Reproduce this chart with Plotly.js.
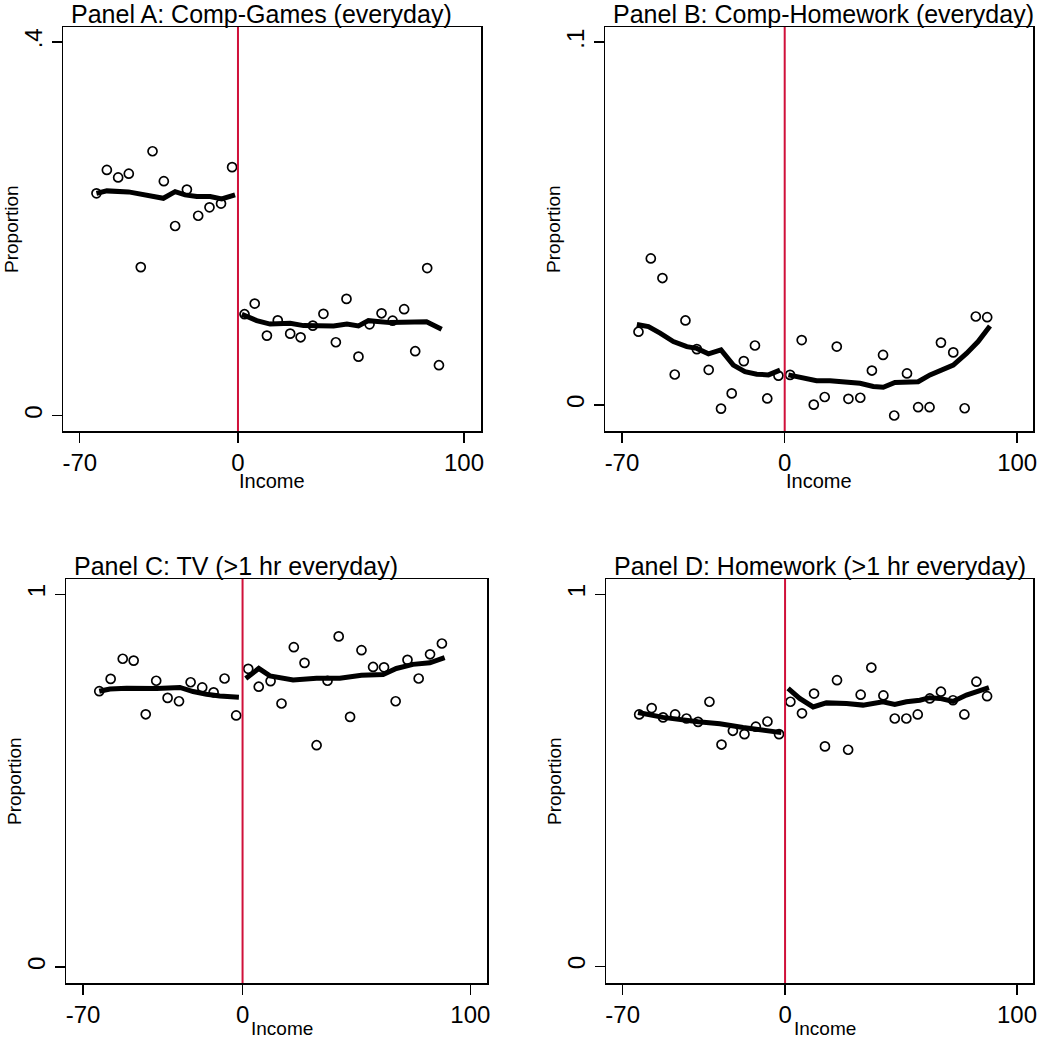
<!DOCTYPE html>
<html>
<head>
<meta charset="utf-8">
<script src="https://cdn.plot.ly/plotly-3.0.1.min.js"></script>
<style>html,body{margin:0;padding:0;background:#fff;}#chart{width:1050px;height:1040px;}</style>
</head>
<body>
<div id="chart"></div>
<script>
// ---------- Data ----------
const panelTitles = ["Panel A: Comp-Games (everyday)", "Panel B: Comp-Homework (everyday)",
                     "Panel C: TV (>1 hr everyday)", "Panel D: Homework (>1 hr everyday)"];
const xTickVals = [-70, 0, 100];
const xTickText = ["-70", "0", "100"];
const yTickValsA = [0, 0.4], yTickTextA = ["0", ".4"];
const yTickValsB = [0, 0.1], yTickTextB = ["0", ".1"];
const yTickValsC = [0, 1],   yTickTextC = ["0", "1"];
const yTickValsD = [0, 1],   yTickTextD = ["0", "1"];
const xLabel = "Income";
const yLabel = "Proportion";

// Panel A
const aLeftX  = [-62.6, -58.0, -53.0, -48.3, -43.0, -37.8, -32.8, -27.8, -22.6, -17.6, -12.6, -7.5, -2.6];
const aLeftY  = [0.238, 0.263, 0.255, 0.259, 0.159, 0.283, 0.251, 0.203, 0.242, 0.214, 0.223, 0.227, 0.266];
const aRightX = [2.9, 7.4, 12.8, 17.6, 23.1, 27.7, 33.1, 37.8, 43.3, 48.0, 53.3, 58.2, 63.5, 68.4, 73.5, 78.4, 83.7, 88.9];
const aRightY = [0.1086, 0.120, 0.0857, 0.102, 0.0878, 0.0839, 0.0964, 0.109, 0.0786, 0.125, 0.0632, 0.0978, 0.1096, 0.1017, 0.114, 0.069, 0.158, 0.054];
const aFitLX  = [-62.6, -58.0, -48.4, -38.9, -33.0, -27.8, -23.4, -18.2, -12.3, -7.2, -1.3];
const aFitLY  = [0.238, 0.2406, 0.2395, 0.2355, 0.2327, 0.2398, 0.2363, 0.2345, 0.2345, 0.232, 0.2363];
const aFitRX  = [1.7, 8.3, 14.2, 23.1, 29.0, 37.8, 42.3, 48.2, 53.3, 57.7, 67.2, 83.4, 90.1];
const aFitRY  = [0.1086, 0.1017, 0.098, 0.099, 0.0964, 0.0967, 0.096, 0.098, 0.096, 0.1017, 0.0996, 0.1006, 0.0925];

// Panel B
const bLeftX  = [-62.9, -57.6, -52.6, -47.3, -42.7, -37.8, -32.7, -27.4, -22.8, -17.6, -12.8, -7.5, -2.7];
const bLeftY  = [0.0202, 0.0404, 0.0350, 0.0084, 0.0233, 0.0154, 0.0097, -0.0010, 0.0032, 0.0121, 0.0164, 0.0018, 0.0081];
const bRightX = [2.3, 7.3, 12.5, 17.2, 22.4, 27.4, 32.5, 37.5, 42.3, 47.1, 52.6, 57.4, 62.3, 67.2, 72.5, 77.4, 82.2, 87.1];
const bRightY = [0.0083, 0.0179, 0.0001, 0.0022, 0.0161, 0.0017, 0.0020, 0.0095, 0.0138, -0.0029, 0.0087, -0.0006, -0.0006, 0.0172, 0.0145, -0.0009, 0.0244, 0.0242];
const bFitLX  = [-63.6, -58.6, -53.6, -47.9, -42.1, -37.8, -32.8, -27.4, -22.1, -17.1, -12.0, -7.0, -2.0];
const bFitLY  = [0.0222, 0.0216, 0.0198, 0.0175, 0.0161, 0.0156, 0.0141, 0.0152, 0.0110, 0.0092, 0.0085, 0.0083, 0.0096];
const bFitRX  = [1.6, 8.0, 13.7, 19.5, 26.7, 32.4, 38.1, 42.4, 47.4, 52.4, 57.4, 62.5, 66.8, 72.5, 78.2, 83.2, 88.3];
const bFitRY  = [0.0083, 0.0076, 0.0067, 0.0067, 0.0064, 0.0060, 0.0051, 0.0049, 0.0062, 0.0062, 0.0064, 0.0083, 0.0095, 0.0110, 0.0142, 0.0175, 0.0218];

// Panel C
const cLeftX  = [-62.9, -57.9, -52.6, -47.8, -42.5, -37.9, -32.9, -27.9, -22.8, -17.7, -12.7, -7.9, -2.8];
const cLeftY  = [0.740, 0.773, 0.827, 0.822, 0.678, 0.768, 0.722, 0.713, 0.764, 0.750, 0.737, 0.774, 0.675];
const cRightX = [2.5, 7.1, 12.3, 17.1, 22.5, 27.2, 32.5, 37.3, 42.2, 47.2, 52.2, 57.3, 62.1, 67.2, 72.4, 77.3, 82.3, 87.5];
const cRightY = [0.800, 0.752, 0.767, 0.707, 0.858, 0.816, 0.595, 0.768, 0.887, 0.671, 0.850, 0.805, 0.804, 0.713, 0.824, 0.774, 0.839, 0.868];
const cFitLX  = [-62.9, -58.2, -50.9, -37.7, -27.5, -21.7, -15.8, -10.0, -1.6];
const cFitLY  = [0.740, 0.746, 0.748, 0.747, 0.750, 0.739, 0.732, 0.727, 0.724];
const cFitRX  = [1.4, 7.1, 12.0, 22.2, 32.5, 42.7, 52.2, 61.7, 67.5, 74.8, 82.2, 88.7];
const cFitRY  = [0.774, 0.801, 0.781, 0.770, 0.775, 0.775, 0.783, 0.785, 0.801, 0.812, 0.816, 0.830];

// Panel D
const dLeftX  = [-62.9, -57.5, -52.6, -47.4, -42.5, -37.5, -32.6, -27.4, -22.5, -17.5, -12.6, -7.6, -2.6];
const dLeftY  = [0.677, 0.694, 0.669, 0.677, 0.666, 0.657, 0.711, 0.596, 0.633, 0.624, 0.644, 0.658, 0.624];
const dRightX = [2.3, 7.3, 12.5, 17.2, 22.4, 27.2, 32.6, 37.2, 42.4, 47.3, 52.3, 57.2, 62.4, 67.2, 72.4, 77.3, 82.5, 87.1];
const dRightY = [0.711, 0.680, 0.733, 0.591, 0.769, 0.582, 0.730, 0.803, 0.728, 0.666, 0.666, 0.677, 0.720, 0.738, 0.715, 0.677, 0.765, 0.726];
const dFitLX  = [-63.4, -52.6, -37.5, -28.1, -18.1, -8.0, -1.6];
const dFitLY  = [0.682, 0.669, 0.657, 0.652, 0.642, 0.633, 0.628];
const dFitRX  = [1.3, 6.3, 12.1, 17.8, 26.5, 33.6, 42.2, 47.3, 52.3, 58.1, 62.4, 66.7, 72.4, 78.2, 87.9];
const dFitRY  = [0.747, 0.720, 0.697, 0.708, 0.706, 0.702, 0.711, 0.704, 0.711, 0.715, 0.722, 0.720, 0.712, 0.729, 0.749];

// ---------- Build ----------
const W = 1050, H = 1040;
const FONT = "Liberation Sans, Arial, Helvetica, sans-serif";
const px = v => v / W;
const py = v => 1 - v / H;

const panels = [
  {ax: "", box: [63, 481, 27, 431], lab: [0, 481, 20], xr: [-77.4, 107.5], yr: [-0.0164, 0.416], tv: yTickValsA, tt: yTickTextA,
   sx: [aLeftX, aRightX], sy: [aLeftY, aRightY], fx: [aFitLX, aFitRX], fy: [aFitLY, aFitRY]},
  {ax: "2", box: [605, 1033, 27, 431], lab: [0, 481, 20], xr: [-77.3, 106.8], yr: [-0.00717, 0.1042], tv: yTickValsB, tt: yTickTextB,
   sx: [bLeftX, bRightX], sy: [bLeftY, bRightY], fx: [bFitLX, bFitRX], fy: [bFitLY, bFitRY]},
  {ax: "3", box: [66, 487, 579, 983], lab: [5, 1028.5, 19], xr: [-77.5, 107.3], yr: [-0.043, 1.041], tv: yTickValsC, tt: yTickTextC,
   sx: [cLeftX, cRightX], sy: [cLeftY, cRightY], fx: [cFitLX, cFitRX], fy: [cFitLY, cFitRY]},
  {ax: "4", box: [606, 1033, 579, 983], lab: [5, 1028.5, 19], xr: [-77.2, 106.9], yr: [-0.045, 1.041], tv: yTickValsD, tt: yTickTextD,
   sx: [dLeftX, dRightX], sy: [dLeftY, dRightY], fx: [dFitLX, dFitRX], fy: [dFitLY, dFitRY]}
];

const traces = [];
const layout = {
  width: W, height: H, margin: {l: 0, r: 0, t: 0, b: 0},
  paper_bgcolor: "#fff", plot_bgcolor: "#fff", showlegend: false,
  font: {family: FONT, color: "#000"},
  shapes: [], annotations: []
};

panels.forEach((p, i) => {
  const xa = "x" + p.ax, ya = "y" + p.ax;
  for (let k = 0; k < 2; k++) {
    traces.push({x: p.sx[k], y: p.sy[k], xaxis: xa, yaxis: ya, type: "scatter", mode: "markers",
      marker: {symbol: "circle-open", size: 9, color: "#000", line: {width: 1.7, color: "#000"}}, hoverinfo: "skip"});
    traces.push({x: p.fx[k], y: p.fy[k], xaxis: xa, yaxis: ya, type: "scatter", mode: "lines",
      line: {color: "#000", width: 5}, hoverinfo: "skip"});
  }
  const [l, r, t, b] = p.box;
  layout["xaxis" + p.ax] = {
    domain: [px(l), px(r)], range: p.xr, anchor: ya,
    tickvals: xTickVals, ticktext: xTickText, ticks: "outside", ticklen: 10, tickwidth: 1.5, tickcolor: "#000",
    showline: true, mirror: true, linecolor: "#000", linewidth: 1.5,
    showgrid: false, zeroline: false, tickfont: {size: 24, family: FONT, color: "#000"}
  };
  layout["yaxis" + p.ax] = {
    domain: [py(b), py(t)], range: p.yr, anchor: xa,
    tickvals: p.tv, ticktext: p.tt, tickangle: -90, ticks: "outside", ticklen: 10, tickwidth: 1.5, tickcolor: "#000",
    showline: true, mirror: true, linecolor: "#000", linewidth: 1.5,
    showgrid: false, zeroline: false, tickfont: {size: 24, family: FONT, color: "#000"}
  };
  layout.shapes.push({type: "line", xref: xa, yref: ya + " domain", x0: 0, x1: 0, y0: 0, y1: 1,
    line: {color: "#d0103a", width: 2}});
  // panel title
  layout.annotations.push({text: panelTitles[i], xref: "paper", yref: "paper",
    x: px(l + 6), y: py(t - 13), xanchor: "left", yanchor: "middle", showarrow: false,
    font: {size: 25, family: FONT, color: "#000"}});
  // x label
  layout.annotations.push({text: xLabel, xref: "paper", yref: "paper",
    x: px((l + r) / 2 + p.lab[0]), y: py(p.lab[1]), xanchor: "center", yanchor: "middle", showarrow: false,
    font: {size: p.lab[2], family: FONT, color: "#000"}});
  // y label
  layout.annotations.push({text: yLabel, xref: "paper", yref: "paper", textangle: -90,
    x: px(l - 52), y: py((t + b) / 2), xanchor: "center", yanchor: "middle", showarrow: false,
    font: {size: 19, family: FONT, color: "#000"}});
});

Plotly.newPlot("chart", traces, layout, {staticPlot: true, displayModeBar: false});
</script>
</body>
</html>
